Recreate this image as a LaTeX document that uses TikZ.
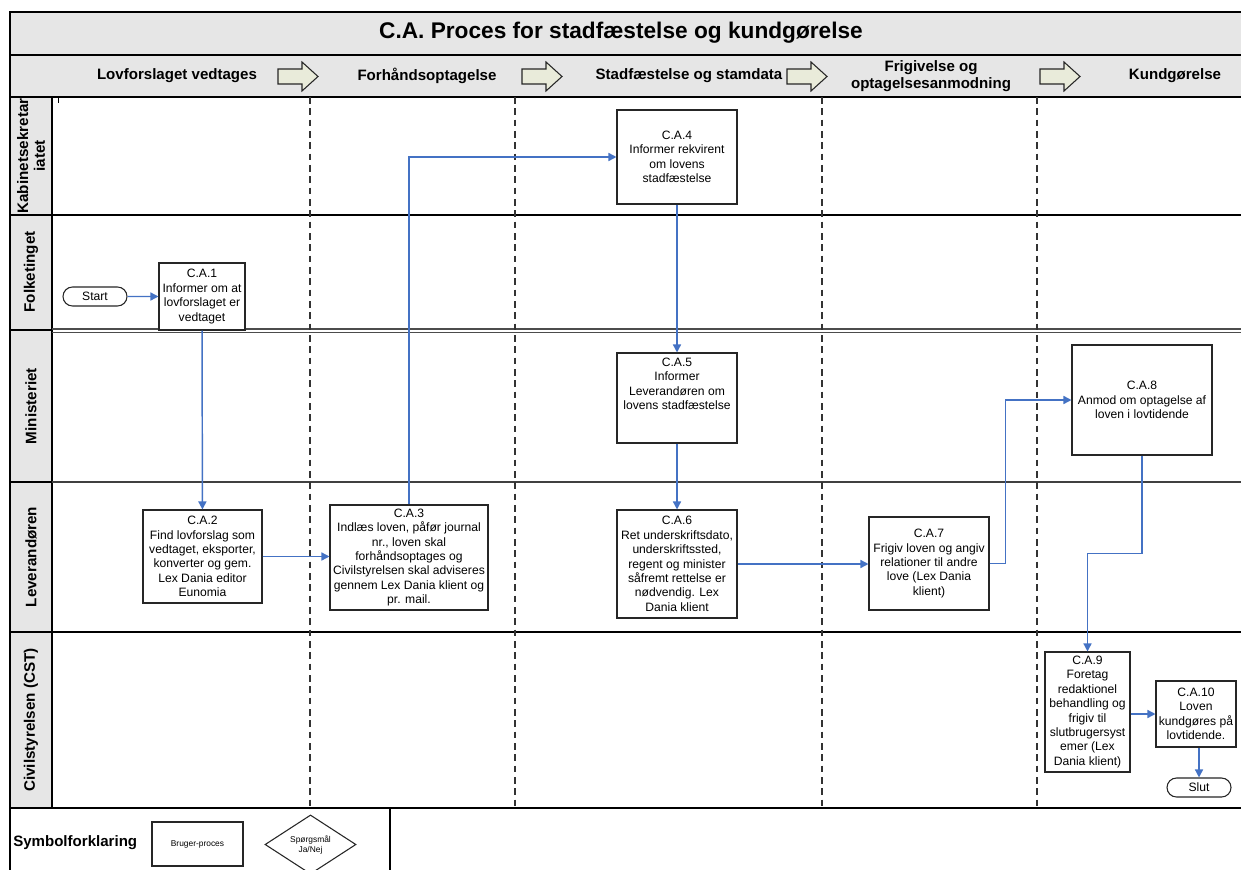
\documentclass[tikz,border=0pt]{standalone}
\usepackage{fontspec}
\setmainfont{Liberation Sans}
\usetikzlibrary{arrows.meta,shapes.misc,shapes.geometric,calc}
\definecolor{lanegrey}{RGB}{230,230,230}
\definecolor{flowblue}{RGB}{68,114,196}
\definecolor{arrowfill}{RGB}{233,235,218}
\begin{document}
\begin{tikzpicture}[x=0.75pt,y=-0.75pt,
  box/.style={draw=black!85, line width=0.8pt, fill=white, align=center, inner sep=1pt, font=\fontsize{9.1}{10.8}\selectfont},
  txt/.style={align=center, inner sep=0pt, font=\fontsize{9.1}{10.8}\selectfont},
  term/.style={draw=black!85, line width=0.8pt, fill=white, rounded rectangle, minimum width=48pt, minimum height=14.25pt, inner sep=0pt, font=\fontsize{9.1}{10.8}\selectfont},
  flow/.style={draw=flowblue, line width=1.1pt, -{Triangle[length=6pt,width=6pt]}},
  lane/.style={draw=black, line width=0.9pt},
  sep/.style={draw=black!80, line width=0.8pt, dash pattern=on 5pt off 3.5pt},
  lanelabel/.style={rotate=90, align=center, inner sep=0pt, font=\bfseries\fontsize{11.4}{12.5}\selectfont},
  phase/.style={align=center, inner sep=0pt, font=\bfseries\fontsize{11.3}{12.8}\selectfont},
  hdrarrow/.style={draw=black!85, line width=0.8pt, fill=arrowfill}
]
\fill[white] (0,0) rectangle (1241,870);
\useasboundingbox (0,0) rectangle (1241,870);

% title band and header row
\fill[lanegrey] (10,12) rectangle (1245,97);
\draw[lane] (1245,12) -- (10,12) -- (10,875);
\draw[lane] (10,55) -- (1245,55);
\draw[lane] (10,97) -- (1245,97);
\node[inner sep=0pt, font=\bfseries\fontsize{17}{19}\selectfont] (title) at (621,33) {C.A. Proces for stadfæstelse og kundgørelse};

\node[phase] (ph1) at (177,76) {Lovforslaget vedtages};
\node[phase] (ph2) at (427,76) {Forhåndsoptagelse};
\node[phase] (ph3) at (689,76) {Stadfæstelse og stamdata};
\node[phase] (ph4) at (931,76) {Frigivelse og\\optagelsesanmodning};
\node[phase] (ph5) at (1175,76) {Kundgørelse};

\foreach \x in {278,522,787,1040}
  \draw[hdrarrow] (\x,69) -- (\x+24,69) -- (\x+24,62) -- (\x+40,76.5) -- (\x+24,91) -- (\x+24,84) -- (\x,84) -- cycle;

% lane label cells
\foreach \a/\b in {97/215,215/330,330/482,482/632,632/808}
  \draw[lane, fill=lanegrey] (10,\a) rectangle (52,\b);
\node[lanelabel] (l1) at (31,156) {Kabinetsekretar\\iatet};
\node[lanelabel] (l2) at (31,272) {Folketinget};
\node[lanelabel] (l3) at (31,406) {Ministeriet};
\node[lanelabel] (l4) at (31,557) {Leverandøren};
\node[lanelabel] (l5) at (31,720) {Civilstyrelsen (CST)};

% lane lines
\draw[lane] (52,215) -- (1245,215);
\draw[lane, black!70] (52,329) -- (1245,329);
\draw[lane, black!70] (52,332.5) -- (1245,332.5);
\draw[lane, black!75, line width=1.8pt] (52,482) -- (1245,482);
\draw[lane] (52,632) -- (1245,632);
\draw[lane] (10,808) -- (1245,808);
\draw[line width=0.6pt] (58,97) -- (58,103);

% phase separators
\foreach \x in {310,515,822,1037}
  \draw[sep] (\x,97) -- (\x,808);

% process nodes
\node[term] (start) at (95,296.5) {Start};
\node[box, minimum width=64.5pt, minimum height=50.25pt] (c1) at (202,296.5) {C.A.1\\Informer om at\\lovforslaget er\\vedtaget};
\node[box, minimum width=89.25pt, minimum height=69.75pt] (c2) at (202.5,556.5) {C.A.2\\Find lovforslag som\\vedtaget, eksporter,\\konverter og gem.\\Lex Dania editor\\Eunomia};
\node[box, minimum width=118.5pt, minimum height=78.75pt] (c3) at (409,557.5) {C.A.3\\Indlæs loven, påfør journal\\nr., loven skal\\forhåndsoptages og\\Civilstyrelsen skal adviseres\\gennem Lex Dania klient og\\pr. mail.};
\node[box, minimum width=90pt, minimum height=70.5pt] (c4) at (677,157) {C.A.4\\Informer rekvirent\\om lovens\\stadfæstelse};
\node[box, minimum width=90pt, minimum height=67.5pt] (c5) at (677,398) {};
\node[txt] (c5t) at (677,384) {C.A.5\\Informer\\Leverandøren om\\lovens stadfæstelse};
\node[box, minimum width=90pt, minimum height=81pt] (c6) at (677,564) {C.A.6\\Ret underskriftsdato,\\underskriftssted,\\regent og minister\\såfremt rettelse er\\nødvendig. Lex\\Dania klient};
\node[box, minimum width=90pt, minimum height=69.75pt] (c7) at (929,563.5) {C.A.7\\Frigiv loven og angiv\\relationer til andre\\love (Lex Dania\\klient)};
\node[box, minimum width=105pt, minimum height=82.5pt] (c8) at (1142,400) {C.A.8\\Anmod om optagelse af\\loven i lovtidende};
\node[box, minimum width=63.75pt, minimum height=90pt] (c9) at (1087.5,712) {C.A.9\\Foretag\\redaktionel\\behandling og\\frigiv til\\slutbrugersyst\\emer (Lex\\Dania klient)};
\node[box, minimum width=60pt, minimum height=49.5pt] (c10) at (1196,714) {C.A.10\\Loven\\kundgøres på\\lovtidende.};
\node[term] (slut) at (1199,787.5) {Slut};

% connectors
\draw[flow] (start) -- (c1);
\draw[flow] (c1) -- (c2);
\draw[flow] (c2.east) -- (c3.west |- c2.east);
\draw[flow] (c3.north) |- (c4.west);
\draw[flow] (c4) -- (c5);
\draw[flow] (c5) -- (c6);
\draw[flow] (c6.east) -- (c7.west |- c6.east);
\draw[flow] (c7.east) -- ++(16,0) |- (c8.west);
\draw[flow] (c8.south) -- ++(0,98) -| (c9.north);
\draw[flow] (c9.east |- c10.west) -- (c10.west);
\draw[flow] (c10.south -| slut.north) -- (slut.north);

% legend
\draw[lane] (390,808) -- (390,875);
\node[anchor=west, inner sep=0pt, font=\bfseries\fontsize{11.3}{13}\selectfont] (legend) at (13,843) {Symbolforklaring};
\node[draw=black!85, line width=0.8pt, minimum width=68.25pt, minimum height=33pt, inner sep=0pt, font=\fontsize{6.3}{7.5}\selectfont] (legbox) at (197.5,844) {Bruger-proces};
\node[draw=black!85, line width=0.8pt, diamond, minimum width=68.25pt, minimum height=32.25pt, inner sep=0pt, align=center, font=\fontsize{6.3}{7.5}\selectfont] (legdia) at (310.5,844.5) {Spørgsmål\\Ja/Nej};
\end{tikzpicture}
\end{document}
